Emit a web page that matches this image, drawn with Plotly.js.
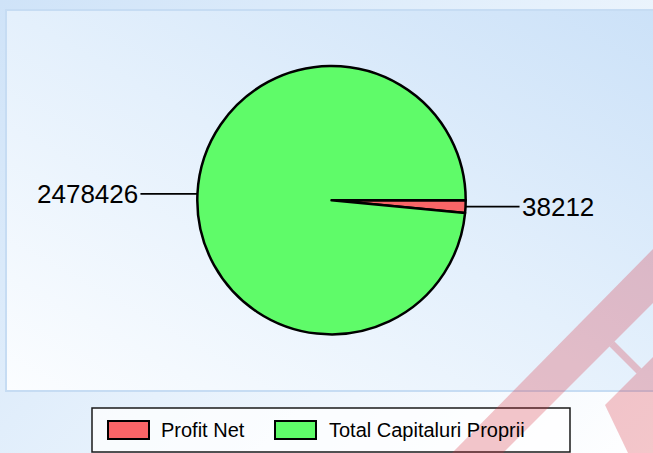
<!DOCTYPE html>
<html>
<head>
<meta charset="utf-8">
<script src="https://cdn.plot.ly/plotly-3.0.1.min.js"></script>
<style>
  html, body { margin: 0; padding: 0; overflow: hidden; }
  #wrap { position: relative; width: 653px; height: 453px; overflow: hidden;
          background: linear-gradient(135deg, #cfe3f8 0%, #e6f1fc 50%, #ffffff 100%); }
  #inner { position: absolute; left: 5px; top: 9px; width: 670px; height: 379px;
           border: 2px solid #c6dcf3;
           background: linear-gradient(to bottom left, #cbe1f8 0%, #e4f0fc 50%, #fbfdff 100%); }
  #chart { position: absolute; left: 0; top: 0; width: 653px; height: 453px; }
</style>
</head>
<body>
<div id="wrap">
  <div id="inner"></div>
  <div id="chart"></div>
</div>
<script>
// ---- data ----
const labels = ['Profit Net', 'Total Capitaluri Proprii'];
const values = [38212, 2478426];
const colors = ['#F96567', '#5FFB69'];

// ---- layout geometry (pixels) ----
const W = 653, H = 453;
const CX = 331.5, CY = 200.2, R = 134.2;
const px = x => x / W;
const py = y => 1 - y / H;

const trace = {
  type: 'pie',
  labels: labels,
  values: values,
  sort: false,
  direction: 'clockwise',
  rotation: 90,
  textinfo: 'none',
  hoverinfo: 'label+value',
  showlegend: false,
  marker: { colors: colors, line: { color: '#000000', width: 2.5 } },
  domain: { x: [px(CX - R), px(CX + R)], y: [py(CY + R), py(CY - R)] }
};

// value labels with leader lines, positioned from slice mid-angles
const total = values.reduce((a, b) => a + b, 0);
const annotations = [];
let cum = 0;
values.forEach((v, i) => {
  const th = 2 * Math.PI * (cum + v / 2) / total;
  cum += v;
  const tx = CX + R * Math.cos(th), ty = CY + R * Math.sin(th);
  const right = Math.cos(th) >= 0;
  annotations.push({
    xref: 'paper', yref: 'paper', x: px(tx), y: py(ty),
    text: String(v), showarrow: true, arrowhead: 0, arrowwidth: 1.8, arrowcolor: '#000',
    ax: right ? 54 : -57, ay: 0,
    xanchor: right ? 'left' : 'right', yanchor: 'middle',
    font: { family: 'Liberation Sans, Arial, sans-serif', size: 26, color: '#000' }
  });
});

// legend (custom drawn from labels/colors)
const shapes = [];
shapes.push({ type: 'rect', xref: 'paper', yref: 'paper', x0: px(92), x1: px(570), y0: py(452), y1: py(408),
  line: { color: '#1a1a1a', width: 1.5 }, fillcolor: 'rgba(255,255,255,0.75)', layer: 'below' });
const swX = [108, 275], txX = [159, 327];
labels.forEach((lab, i) => {
  shapes.push({ type: 'rect', xref: 'paper', yref: 'paper', x0: px(swX[i]), x1: px(swX[i] + 41), y0: py(439), y1: py(421),
    line: { color: '#000', width: 2 }, fillcolor: colors[i], layer: 'above' });
  annotations.push({ xref: 'paper', yref: 'paper', x: px(txX[i]), y: py(430), text: lab, showarrow: false,
    xanchor: 'left', yanchor: 'middle',
    font: { family: 'Liberation Sans, Arial, sans-serif', size: 20, color: '#000' } });
});

// watermark decoration
const wm = 'rgba(215,45,60,0.27)';
function poly(pts) {
  return 'M' + pts.map(p => px(p[0]) + ',' + py(p[1])).join(' L') + ' Z';
}
shapes.push({ type: 'path', xref: 'paper', yref: 'paper', path: poly([[452,453],[653,249],[653,303],[503,453]]),
  fillcolor: wm, line: { width: 0 }, layer: 'above' });
shapes.push({ type: 'path', xref: 'paper', yref: 'paper', path: poly([[609.5,346.5],[614.5,341.5],[641.5,368.5],[636.5,373.5]]),
  fillcolor: wm, line: { width: 0 }, layer: 'above' });
shapes.push({ type: 'path', xref: 'paper', yref: 'paper', path: poly([[605,405],[653,357],[653,453],[628,453]]),
  fillcolor: wm, line: { width: 0 }, layer: 'above' });

const layout = {
  width: W, height: H,
  margin: { l: 0, r: 0, t: 0, b: 0, pad: 0 },
  paper_bgcolor: 'rgba(0,0,0,0)',
  plot_bgcolor: 'rgba(0,0,0,0)',
  showlegend: false,
  annotations: annotations,
  shapes: shapes,
  font: { family: 'Liberation Sans, Arial, sans-serif' }
};

Plotly.newPlot('chart', [trace], layout, { displayModeBar: false, staticPlot: true });
</script>
</body>
</html>
